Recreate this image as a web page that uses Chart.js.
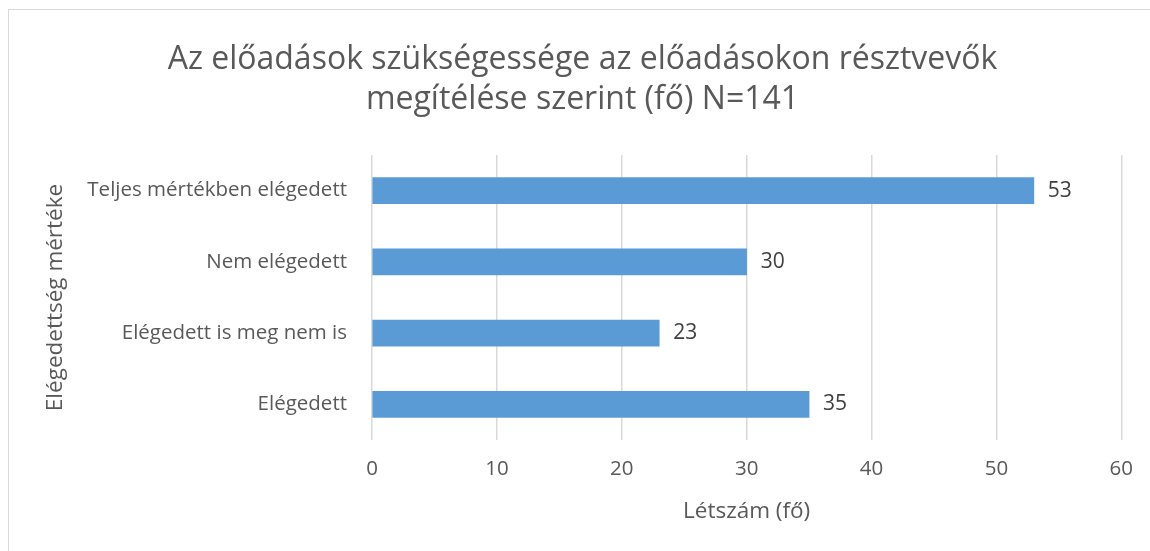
<!DOCTYPE html>
<html>
<head>
<meta charset="utf-8">
<script src="https://cdn.jsdelivr.net/npm/chart.js@4"></script>
<style>
  html, body { margin: 0; padding: 0; background: #fff; }
  #wrap { position: relative; width: 1150px; height: 551px; overflow: hidden; }
  #frame { position: absolute; left: 8px; top: 9px; width: 1200px; height: 600px; border: 1px solid #d9d9d9; }
  canvas { position: absolute; left: 0; top: 0; }
</style>
</head>
<body>
<div id="wrap">
  <div id="frame"></div>
  <canvas id="barChart" width="1150" height="551"></canvas>
</div>
<script>
// Chart data
const categories = ['Teljes mértékben elégedett', 'Nem elégedett', 'Elégedett is meg nem is', 'Elégedett'];
const counts = [53, 30, 23, 35];
const xTicks = [0, 10, 20, 30, 40, 50, 60];

const FONT = '"Open Sans", sans-serif';

// draws the value next to the end of each bar
const valueLabels = {
    id: 'valueLabels',
    afterDatasetsDraw(chart) {
        const ctx = chart.ctx;
        const meta = chart.getDatasetMeta(0);
        ctx.save();
        ctx.font = '21px ' + FONT;
        ctx.fillStyle = '#404040';
        ctx.textAlign = 'left';
        ctx.textBaseline = 'middle';
        meta.data.forEach((bar, i) => {
            ctx.fillText(String(counts[i]), bar.x + 14, bar.y);
        });
        ctx.restore();
    }
};

const ctxBar = document.getElementById('barChart').getContext('2d');
new Chart(ctxBar, {
    type: 'bar',
    data: {
        labels: categories,
        datasets: [{
            label: 'Létszám',
            data: counts,
            backgroundColor: '#5B9BD5',
            barThickness: 26
        }]
    },
    options: {
        indexAxis: 'y',
        responsive: false,
        animation: false,
        layout: {
            padding: { left: 42, right: 27, top: 0, bottom: 26 }
        },
        plugins: {
            legend: { display: false },
            tooltip: { enabled: false },
            title: {
                display: true,
                text: ['Az előadások szükségessége az előadásokon résztvevők', 'megítélése szerint (fő) N=141'],
                color: '#595959',
                font: { family: FONT, size: 32, weight: 'normal', lineHeight: 1.25 },
                padding: { top: 40, bottom: 35 }
            }
        },
        scales: {
            x: {
                min: 0,
                max: 60,
                afterBuildTicks: (scale) => {
                    scale.ticks = xTicks.map(v => ({ value: v }));
                },
                afterFit: (scale) => { scale.height = 85; },
                grid: { color: '#d9d9d9', lineWidth: 1.5, drawTicks: false },
                border: { display: false },
                ticks: {
                    color: '#595959',
                    font: { family: FONT, size: 20.5 },
                    padding: 17
                },
                title: {
                    display: true,
                    text: 'Létszám (fő)',
                    color: '#595959',
                    font: { family: FONT, size: 22.5 },
                    padding: { top: 0, bottom: 0 }
                }
            },
            y: {
                afterFit: (scale) => { scale.width = 330; },
                grid: { display: false, drawTicks: false },
                border: { display: false },
                ticks: {
                    color: '#595959',
                    font: { family: FONT, size: 20.5 },
                    padding: 25
                },
                title: {
                    display: true,
                    text: 'Elégedettség mértéke',
                    color: '#595959',
                    font: { family: FONT, size: 22.5 },
                    padding: { top: 0, bottom: 0 }
                }
            }
        }
    },
    plugins: [valueLabels]
});
</script>
</body>
</html>
